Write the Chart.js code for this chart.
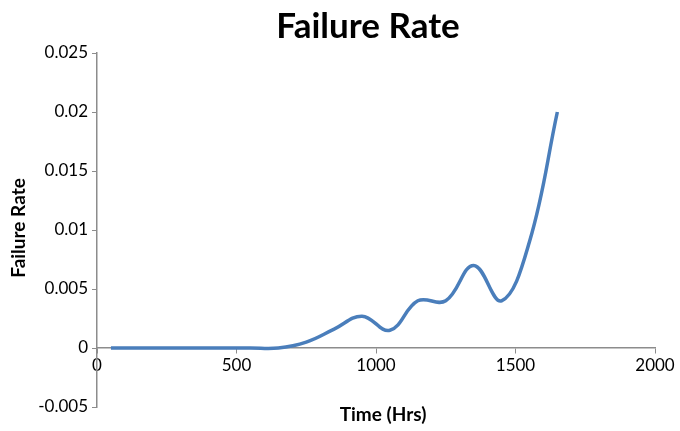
<!DOCTYPE html>
<html>
<head>
<meta charset="utf-8">
<script src="https://cdn.jsdelivr.net/npm/chart.js@4/dist/chart.umd.min.js"></script>
<style>
  html, body { margin: 0; padding: 0; background: #fff; }
  #wrap { width: 680px; height: 431px; }
</style>
</head>
<body>
<div id="wrap"><canvas id="chart" width="680" height="431"></canvas></div>
<script>
const hours = [50, 150, 250, 350, 450, 550, 650, 750, 850, 950, 1050, 1150, 1250, 1350, 1450, 1550, 1650];
const failureRate = [0, 0, 0, 0, 0, 0, 0, 0.0005, 0.0016, 0.0027, 0.0015, 0.004, 0.004, 0.007, 0.004, 0.009, 0.02];
const yTicks = [-0.005, 0, 0.005, 0.01, 0.015, 0.02, 0.025];
const xTicks = [0, 500, 1000, 1500, 2000];
const chartTitle = 'Failure Rate';
const xTitle = 'Time (Hrs)';
const yTitle = 'Failure Rate';

const font = "Lato, 'Liberation Sans', sans-serif";
const axisGray = '#8c8c8c';

const points = hours.map((h, i) => ({ x: h, y: failureRate[i] }));

// titles drawn by hand so they can sit where Excel put them
const titles = {
  id: 'titles',
  afterDraw(chart) {
    const ctx = chart.ctx;
    ctx.save();
    ctx.fillStyle = '#000';
    ctx.textAlign = 'center';
    ctx.textBaseline = 'alphabetic';
    ctx.font = 'bold 35px ' + font;
    ctx.fillText(chartTitle, 368, 38);
    ctx.font = 'bold 19px ' + font;
    ctx.fillText(xTitle, 383, 421);
    ctx.translate(25, 228);
    ctx.rotate(-Math.PI / 2);
    ctx.fillText(yTitle, 0, 0);
    ctx.restore();
  }
};

new Chart(document.getElementById('chart'), {
  type: 'scatter',
  data: {
    datasets: [{
      data: points,
      showLine: true,
      borderColor: '#4a7ebb',
      backgroundColor: '#4a7ebb',
      borderWidth: 3.5,
      pointRadius: 0,
      tension: 0.4,
      fill: false
    }]
  },
  options: {
    responsive: false,
    animation: false,
    layout: { padding: { left: 37, right: 25, top: 53, bottom: 24 } },
    plugins: {
      legend: { display: false },
      tooltip: { enabled: false },
      title: { display: false }
    },
    scales: {
      x: {
        type: 'linear',
        position: { y: 0 },
        min: 0,
        max: 2000,
        afterBuildTicks: (s) => { s.ticks = xTicks.map(v => ({ value: v })); },
        ticks: {
          color: '#000',
          font: { family: font, size: 17 },
          padding: 2,
          callback: (v) => String(v)
        },
        grid: { drawOnChartArea: false, color: axisGray, tickLength: 5 },
        border: { color: axisGray, width: 1.5 }
      },
      y: {
        min: -0.005,
        max: 0.025,
        afterBuildTicks: (s) => { s.ticks = yTicks.map(v => ({ value: v })); },
        afterFit: (s) => { s.width = 60; },
        ticks: {
          color: '#000',
          font: { family: font, size: 17 },
          padding: 4,
          callback: (v) => String(Math.round(v * 1000) / 1000)
        },
        grid: { drawOnChartArea: false, color: axisGray, tickLength: 5 },
        border: { color: axisGray, width: 1.5 }
      }
    }
  },
  plugins: [titles]
});
</script>
</body>
</html>
